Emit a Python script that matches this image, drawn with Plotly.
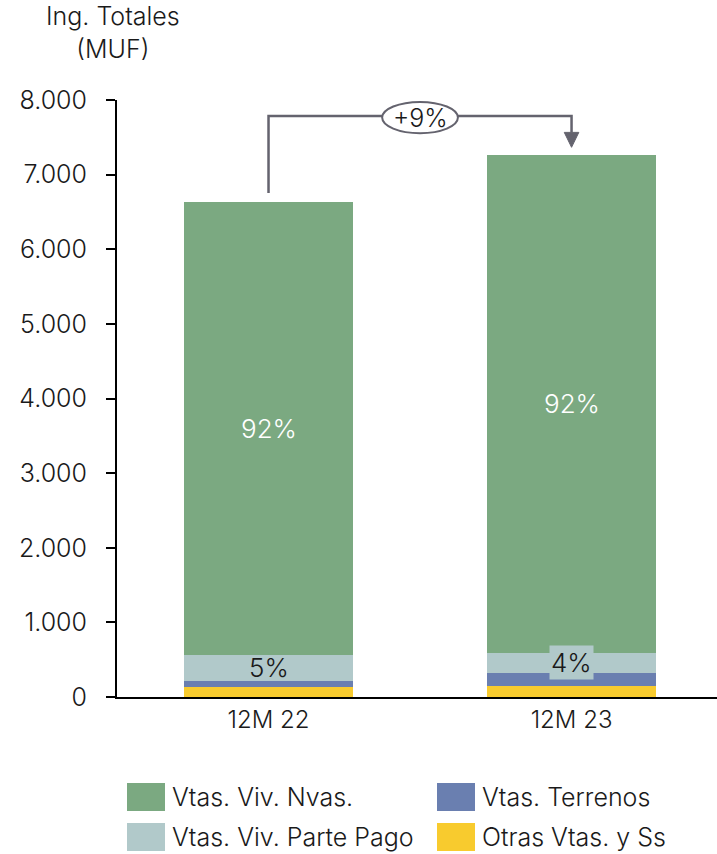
import plotly.graph_objects as go

# Periods and revenue components (MUF)
periods = ["12M 22", "12M 23"]
otras_vtas = [138, 147]          # Otras Vtas. y Ss
vtas_terrenos = [80, 178]        # Vtas. Terrenos
vtas_parte_pago = [345, 268]     # Vtas. Viv. Parte Pago
vtas_nuevas = [6072, 6668]       # Vtas. Viv. Nvas.
y_ticks = [0, 1000, 2000, 3000, 4000, 5000, 6000, 7000, 8000]

series = [
    ("Otras Vtas. y Ss", otras_vtas, "#F8CB2E"),
    ("Vtas. Terrenos", vtas_terrenos, "#6A7FB0"),
    ("Vtas. Viv. Parte Pago", vtas_parte_pago, "#B1C9CA"),
    ("Vtas. Viv. Nvas.", vtas_nuevas, "#7BA981"),
]

FONT = "Inter"
WEIGHT = 300
DARK = "#1a1a1a"
LINE = "#64636E"

W, H = 717, 854
ML, MR, MT, MB = 117, 0, 100, 157
PW, PH = W - ML - MR, H - MT - MB


def px_x(px):
    return (px - ML) / PW


def px_y(py):
    return (H - MB - py) / PH


def fnt(size, color=DARK):
    return dict(family=FONT, size=size, color=color, weight=WEIGHT)


fig = go.Figure()
x_idx = list(range(len(periods)))
for name, vals, color in series:
    fig.add_trace(go.Bar(
        x=x_idx, y=vals, name=name, marker=dict(color=color, line=dict(width=0)),
        width=0.555, showlegend=False, hoverinfo="y+name",
    ))

totals = [sum(v) for v in zip(otras_vtas, vtas_terrenos, vtas_parte_pago, vtas_nuevas)]
annotations = []
shapes = []

# Share labels inside the bars
for i in x_idx:
    base_pp = otras_vtas[i] + vtas_terrenos[i]
    mid_pp = base_pp + vtas_parte_pago[i] / 2
    top_pp = base_pp + vtas_parte_pago[i]
    mid_nv = top_pp + vtas_nuevas[i] / 2
    annotations.append(dict(
        x=i, y=mid_nv, xref="x", yref="y", showarrow=False,
        text=f"{round(100 * vtas_nuevas[i] / totals[i])}%",
        font=fnt(26, "white"),
    ))
    annotations.append(dict(
        x=i, y=mid_pp, xref="x", yref="y", showarrow=False,
        text=f"{round(100 * vtas_parte_pago[i] / totals[i])}%",
        font=fnt(26),
        bgcolor="#B1C9CA" if i == 1 else None, borderpad=1,
    ))

# Growth bracket between the two totals
bracket_y = 7784
start_y = totals[0] + 120
tip_y = totals[1] + 105
head_h = 200
head_w = 0.024
shapes.append(dict(
    type="path", xref="x", yref="y",
    path=f"M 0,{start_y} L 0,{bracket_y} L 1,{bracket_y} L 1,{tip_y + head_h}",
    line=dict(color=LINE, width=2.5),
))
shapes.append(dict(
    type="path", xref="x", yref="y",
    path=f"M {1 - head_w},{tip_y + head_h} L {1 + head_w},{tip_y + head_h} L 1,{tip_y} Z",
    fillcolor=LINE, line=dict(color=LINE, width=1),
))
shapes.append(dict(
    type="circle", xref="x", yref="y",
    x0=0.5 - 0.125, x1=0.5 + 0.125, y0=bracket_y - 230, y1=bracket_y + 190,
    fillcolor="white", line=dict(color=LINE, width=2),
))
growth = round(100 * (totals[1] / totals[0] - 1))
annotations.append(dict(
    x=0.5, y=bracket_y - 20, xref="x", yref="y", showarrow=False,
    text=f"+{growth}%", font=fnt(25),
))

# Axis title
annotations.append(dict(
    x=px_x(113), y=px_y(33), xref="paper", yref="paper", showarrow=False,
    text="Ing. Totales<br>(MUF)", align="center", font=fnt(25),
    xanchor="center", yanchor="middle",
))

# Legend drawn as swatches and labels
legend_items = [
    ("Vtas. Viv. Nvas.", "#7BA981", 127, 797),
    ("Vtas. Terrenos", "#6A7FB0", 437, 797),
    ("Vtas. Viv. Parte Pago", "#B1C9CA", 127, 837),
    ("Otras Vtas. y Ss", "#F8CB2E", 437, 837),
]
for label, color, px, py in legend_items:
    shapes.append(dict(
        type="rect", xref="paper", yref="paper",
        x0=px_x(px), x1=px_x(px + 38), y0=px_y(py + 14), y1=px_y(py - 14),
        fillcolor=color, line=dict(width=0),
    ))
    annotations.append(dict(
        x=px_x(px + 43), y=px_y(py), xref="paper", yref="paper", showarrow=False,
        text=label, xanchor="left", yanchor="middle", font=fnt(25),
    ))

fig.update_layout(
    barmode="stack",
    width=W, height=H,
    margin=dict(l=ML, r=MR, t=MT, b=MB),
    paper_bgcolor="white", plot_bgcolor="white",
    separators=",.",
    font=fnt(25),
    annotations=annotations, shapes=shapes,
    xaxis=dict(
        range=[-0.5, 1.48], tickvals=x_idx, ticktext=periods,
        showline=True, linecolor="black", linewidth=2, ticks="",
        showgrid=False, zeroline=False, fixedrange=True,
        tickfont=fnt(24),
    ),
    yaxis=dict(
        range=[0, 8000], tickvals=y_ticks, tickformat=",d",
        showline=True, linecolor="black", linewidth=2,
        ticks="outside", ticklen=9, tickwidth=2, tickcolor="black",
        ticklabelstandoff=14,
        showgrid=False, zeroline=False, fixedrange=True,
        tickfont=fnt(25),
    ),
)

fig.write_html("out.html")
